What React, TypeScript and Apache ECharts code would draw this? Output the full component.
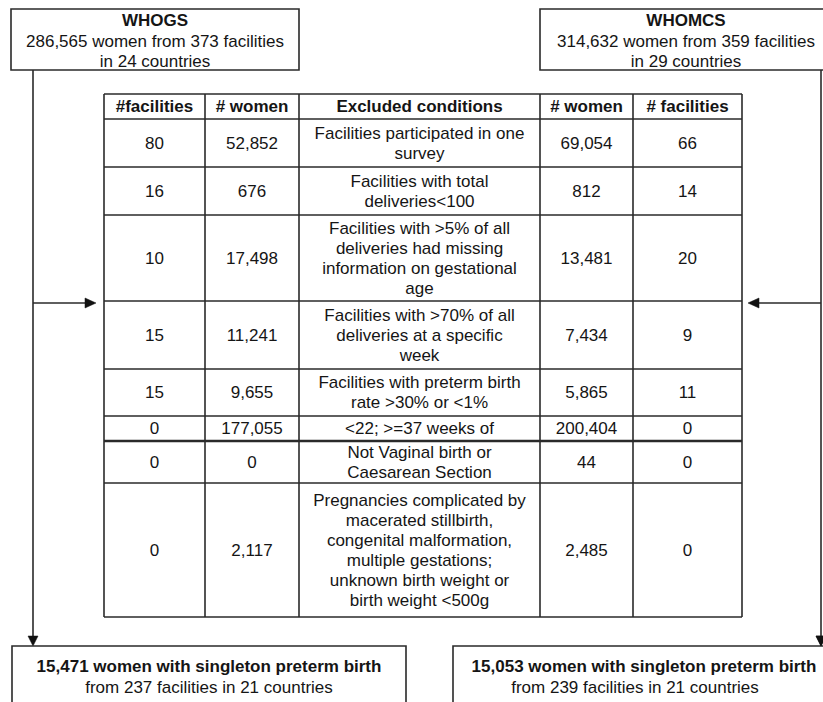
import React, { useEffect, useRef } from "react";
import * as echarts from "echarts";

// ---- data ----
const headers = ["#facilities", "# women", "Excluded conditions", "# women", "# facilities"];
const gsFacilities = ["80", "16", "10", "15", "15", "0", "0", "0"];
const gsWomen = ["52,852", "676", "17,498", "11,241", "9,655", "177,055", "0", "2,117"];
const conditions = [
  "Facilities participated in one\nsurvey",
  "Facilities with total\ndeliveries<100",
  "Facilities with >5% of all\ndeliveries had missing\ninformation on gestational\nage",
  "Facilities with >70% of all\ndeliveries at a specific\nweek",
  "Facilities with preterm birth\nrate >30% or <1%",
  "<22; >=37 weeks of",
  "Not Vaginal birth or\nCaesarean Section",
  "Pregnancies complicated by\nmacerated stillbirth,\ncongenital malformation,\nmultiple gestations;\nunknown birth weight or\nbirth weight <500g",
];
const mcsWomen = ["69,054", "812", "13,481", "7,434", "5,865", "200,404", "44", "2,485"];
const mcsFacilities = ["66", "14", "20", "9", "11", "0", "0", "0"];

const topLeftTitle = "WHOGS";
const topLeftLines = "286,565 women from 373 facilities\nin 24 countries";
const topRightTitle = "WHOMCS";
const topRightLines = "314,632 women from 359 facilities\nin 29 countries";
const bottomLeftTitle = "15,471 women with singleton preterm birth";
const bottomLeftSub = "from 237 facilities in 21 countries";
const bottomRightTitle = "15,053 women with singleton preterm birth";
const bottomRightSub = "from 239 facilities in 21 countries";

// ---- layout ----
const colX = [104, 205, 299, 540, 633, 742];
const rowY = [94, 119, 167, 215, 301, 369, 416, 441, 483, 617];
const FONT = '"Liberation Sans", Arial, sans-serif';
const TXT = "#151515";
const LINE = "#2a2a2a";

function text(x: number, y: number, s: string, bold = false, extra: any = {}) {
  return {
    type: "text",
    x,
    y,
    silent: true,
    style: {
      text: s,
      fill: TXT,
      font: `${bold ? "bold " : ""}17px ${FONT}`,
      textAlign: "center",
      textVerticalAlign: "middle",
      lineHeight: 20,
      ...extra,
    },
  };
}

function line(x1: number, y1: number, x2: number, y2: number, w = 1.6) {
  return {
    type: "line",
    silent: true,
    shape: { x1, y1, x2, y2 },
    style: { stroke: LINE, lineWidth: w },
  };
}

function rect(x: number, y: number, w: number, h: number) {
  return {
    type: "rect",
    silent: true,
    shape: { x, y, width: w, height: h },
    style: { fill: "#fff", stroke: LINE, lineWidth: 1.6 },
  };
}

function arrowHead(points: number[][]) {
  return {
    type: "polygon",
    silent: true,
    shape: { points },
    style: { fill: "#111", stroke: "#111", lineWidth: 0.5 },
  };
}

function buildElements() {
  const els: any[] = [];
  // top boxes
  els.push(rect(11, 9, 288, 61));
  els.push(text(155, 20, topLeftTitle, true));
  els.push(text(155, 51, topLeftLines));
  els.push(rect(540, 9, 292, 61));
  els.push(text(686, 20, topRightTitle, true));
  els.push(text(686, 51, topRightLines));

  // vertical connectors
  els.push(line(33, 70, 33, 638));
  els.push(arrowHead([[28, 636], [38, 636], [33, 646]]));
  els.push(line(821, 70, 821, 638));
  els.push(arrowHead([[816, 636], [826, 636], [821, 646]]));

  // horizontal arrows
  els.push(line(33, 303, 88, 303));
  els.push(arrowHead([[85, 298], [85, 308], [96, 303]]));
  els.push(line(821, 303, 758, 303));
  els.push(arrowHead([[759, 298], [759, 308], [748, 303]]));

  // table lines
  const top = rowY[0];
  const bottom = rowY[rowY.length - 1];
  colX.forEach((x) => els.push(line(x, top, x, bottom)));
  rowY.forEach((y, i) => els.push(line(colX[0], y, colX[colX.length - 1], y, i === 7 ? 2.4 : 1.6)));

  const centers = colX.slice(0, -1).map((x, i) => (x + colX[i + 1]) / 2);
  // header
  headers.forEach((h, i) => els.push(text(centers[i], (rowY[0] + rowY[1]) / 2, h, true)));
  // rows
  const cols = [gsFacilities, gsWomen, conditions, mcsWomen, mcsFacilities];
  for (let r = 0; r < conditions.length; r++) {
    const cy = (rowY[r + 1] + rowY[r + 2]) / 2;
    cols.forEach((c, i) => els.push(text(centers[i], cy, c[r])));
  }

  // bottom boxes
  els.push(rect(12, 646, 394, 80));
  els.push(text(209, 666, bottomLeftTitle, true));
  els.push(text(209, 687, bottomLeftSub));
  els.push(rect(453, 646, 384, 80));
  els.push(text(644, 666, bottomRightTitle, true));
  els.push(text(635, 687, bottomRightSub));
  // redraw right arrow head over box
  els.push(arrowHead([[816, 636], [826, 636], [821, 646]]));
  return els;
}

export default function App() {
  const ref = useRef<HTMLDivElement>(null);
  useEffect(() => {
    if (!ref.current) return;
    const chart = echarts.init(ref.current, null, { renderer: "svg" });
    chart.setOption({
      animation: false,
      backgroundColor: "#fff",
      graphic: { elements: buildElements() },
    });
    return () => chart.dispose();
  }, []);
  return (
    <div
      ref={ref}
      style={{ position: "fixed", left: 0, top: 0, width: 823, height: 702, background: "#fff" }}
    />
  );
}
